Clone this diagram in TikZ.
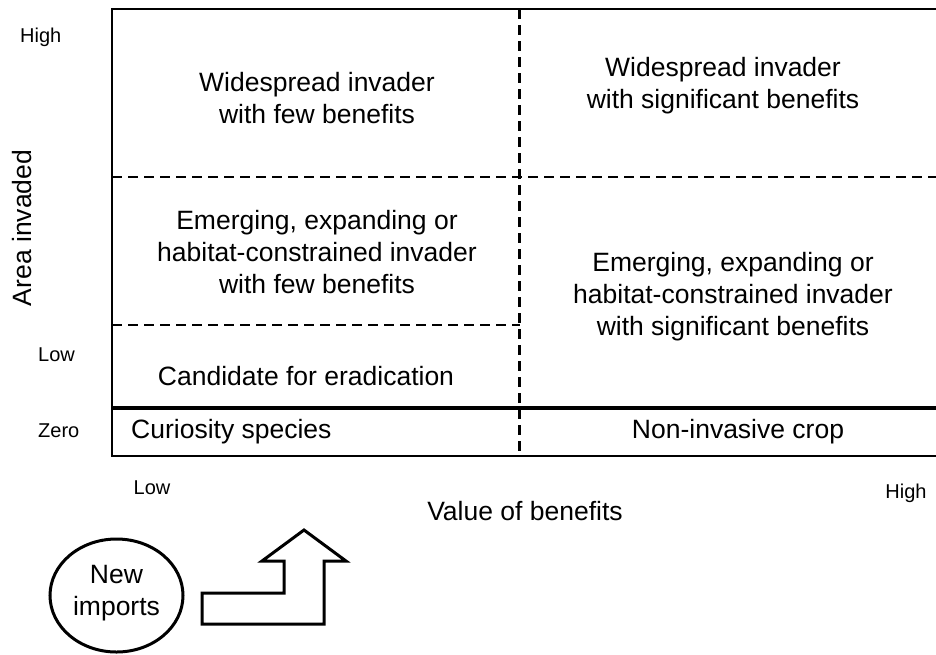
\documentclass[tikz,border=0pt]{standalone}
\usepackage{fontspec}
\setmainfont{Liberation Sans}
\usetikzlibrary{shapes.geometric}
\begin{document}
\begin{tikzpicture}[x=1pt,y=-1pt,
  big/.style={font=\fontsize{26.5}{32}\selectfont,align=center,inner sep=0pt},
  small/.style={font=\fontsize{20}{24}\selectfont,inner sep=0pt},
  frameline/.style={line width=2.8pt},
  thickline/.style={line width=4.6pt},
  dashline/.style={line width=2.8pt,dash pattern=on 10pt off 6pt},
  shapeline/.style={line width=3pt,line join=miter}]
\useasboundingbox (0,0) rectangle (936,654);
% frame
\coordinate (tl) at (112,9);
\coordinate (tr) at (936,9);
\coordinate (bl) at (112,456);
\coordinate (br) at (936,456);
\coordinate (vt) at (519.5,9);
\coordinate (vb) at (519.5,456);
\coordinate (d1l) at (112,177);
\coordinate (d1r) at (936,177);
\coordinate (d2l) at (112,325);
\coordinate (d2r) at (519.5,325);
\coordinate (t1l) at (112,408);
\coordinate (t1r) at (936,408);
\draw[dashline] (vt) -- (vb);
\draw[dashline] (d1l) -- (d1r);
\draw[dashline] (d2l) -- (d2r);
\draw[thickline] (t1l) -- (t1r);
\draw[frameline] (tr) -- (tl) -- (bl) -- (br);
% cell texts
\node[big] (wf) at (317,98) {Widespread invader\\with few benefits};
\node[big] (ws) at (723,86) {Widespread invader\\with significant benefits};
\node[big] (ef) at (317,252) {Emerging, expanding or\\habitat-constrained invader\\with few benefits};
\node[big] (es) at (733,297) {Emerging, expanding or\\habitat-constrained invader\\with significant benefits};
\node[big] (ce) at (306,376) {Candidate for eradication};
\node[big,anchor=west] (cs) at (131,432) {Curiosity species};
\node[big] (nc) at (738,432) {Non-invasive crop};
% axis labels
\node[small,anchor=west] (yh) at (20,37) {High};
\node[small,anchor=west] (yl) at (38,355) {Low};
\node[small,anchor=west] (yz) at (38,431) {Zero};
\node[big,rotate=90] (ya) at (22,228) {Area invaded};
\node[small] (xl) at (152,488) {Low};
\node[small] (xh) at (906,493) {High};
\node[big] (xa) at (525,511) {Value of benefits};
% new imports
\node[shapeline,draw,ellipse,minimum width=133pt,minimum height=113pt,inner sep=0pt] (ni) at (116.5,595.5) {};
\node[big] (nit) at (116.5,593) {New\\imports};
\draw[shapeline] (202,593) -- (284,593) -- (284,561) -- (262,561) -- (304,530) -- (346,561) -- (324,561) -- (324,624) -- (202,624) -- cycle;
\end{tikzpicture}
\end{document}
